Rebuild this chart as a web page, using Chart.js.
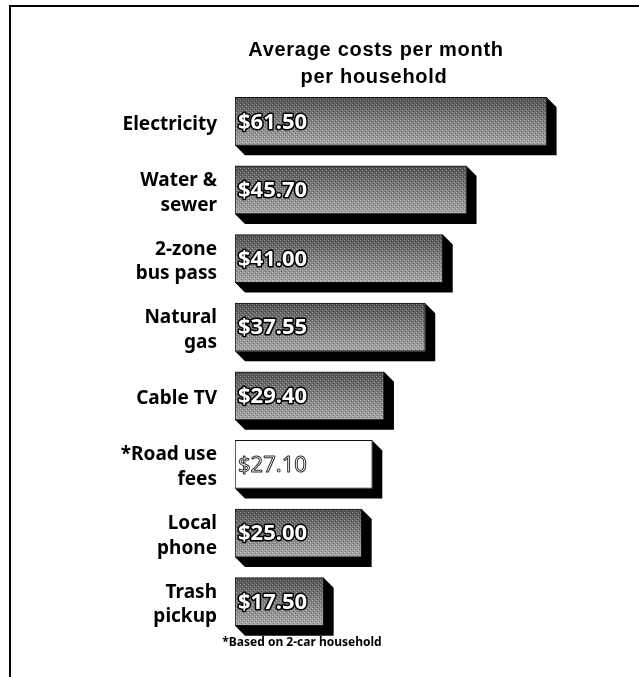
<!DOCTYPE html>
<html>
<head>
<meta charset="utf-8">
<script src="https://cdn.jsdelivr.net/npm/chart.js@4.4.0/dist/chart.umd.min.js"></script>
<style>
  html, body { margin: 0; padding: 0; background: #fff; }
  canvas { display: block; }
</style>
</head>
<body>
<canvas id="costChart" width="639" height="677"></canvas>
<script>
// ===== Data =====
const categories = [
  'Electricity',
  ['Water &', 'sewer'],
  ['2-zone', 'bus pass'],
  ['Natural', 'gas'],
  'Cable TV',
  ['*Road use', 'fees'],
  ['Local', 'phone'],
  ['Trash', 'pickup']
];
const costs = [61.50, 45.70, 41.00, 37.55, 29.40, 27.10, 25.00, 17.50];
const valueLabels = ['$61.50', '$45.70', '$41.00', '$37.55', '$29.40', '$27.10', '$25.00', '$17.50'];
const titleLines = ['Average costs per month', 'per household'];
const footnote = '*Based on 2-car household';
const hollowIndex = 5; // road use fees is drawn as a white bar

const DEPTH = 10; // 3D extrusion in px

// gradient for the front face of each bar, built from the category scale
function barFill(ctx) {
  const chart = ctx.chart;
  const yScale = chart.scales.y;
  if (ctx.dataIndex === hollowIndex) return '#ffffff';
  if (!yScale || yScale.top === undefined) return '#808080';
  const cy = yScale.getPixelForValue(ctx.dataIndex);
  const g = chart.ctx.createLinearGradient(0, cy - 24, 0, cy + 24);
  g.addColorStop(0, '#505050');
  g.addColorStop(0.5, '#808080');
  g.addColorStop(1, '#a8a8a8');
  return g;
}

// small stipple tile laid over the grey faces (scanned print look)
function makeStipple() {
  const tile = document.createElement('canvas');
  tile.width = 4;
  tile.height = 4;
  const t = tile.getContext('2d');
  t.fillStyle = 'rgba(255,255,255,0.35)';
  t.fillRect(0, 0, 1, 1);
  t.fillRect(2, 2, 1, 1);
  t.fillStyle = 'rgba(0,0,0,0.25)';
  t.fillRect(1, 3, 1, 1);
  t.fillRect(3, 1, 1, 1);
  return tile;
}
const stippleTile = makeStipple();

// ===== Frame, title and footnote =====
const decorPlugin = {
  id: 'decor',
  beforeDraw(chart) {
    const c = chart.ctx;
    c.save();
    c.fillStyle = '#fff';
    c.fillRect(0, 0, chart.width, chart.height);
    c.strokeStyle = '#000';
    c.lineWidth = 2;
    c.beginPath();
    c.moveTo(10, 677);
    c.lineTo(10, 6);
    c.lineTo(639, 6);
    c.stroke();

    c.fillStyle = '#000';
    c.textAlign = 'center';
    c.textBaseline = 'alphabetic';
    c.font = 'bold 20px "Liberation Sans", Arial, sans-serif';
    c.letterSpacing = '0.7px';
    c.fillText(titleLines[0], 376, 56);
    c.fillText(titleLines[1], 374, 83);
    c.letterSpacing = '0px';

    c.font = 'bold 12px "Noto Sans", sans-serif';
    c.fillText(footnote, 302, 646);
    c.restore();
  }
};

// ===== 3D shadow behind bars + value labels on top =====
const blockPlugin = {
  id: 'block',
  beforeDatasetsDraw(chart) {
    const c = chart.ctx;
    const meta = chart.getDatasetMeta(0);
    c.save();
    c.fillStyle = '#000';
    meta.data.forEach(bar => {
      const { x, y, base, height } = bar.getProps(['x', 'y', 'base', 'height'], true);
      const top = y - height / 2;
      const bottom = y + height / 2;
      c.beginPath();
      c.moveTo(base, bottom);
      c.lineTo(base + DEPTH, bottom + DEPTH);
      c.lineTo(x + DEPTH, bottom + DEPTH);
      c.lineTo(x + DEPTH, top + DEPTH);
      c.lineTo(x, top);
      c.lineTo(x, bottom);
      c.closePath();
      c.fill();
    });
    c.restore();
  },
  afterDatasetsDraw(chart) {
    const c = chart.ctx;
    const meta = chart.getDatasetMeta(0);
    const pattern = c.createPattern(stippleTile, 'repeat');
    c.save();
    // texture on the grey faces
    meta.data.forEach((bar, i) => {
      if (i === hollowIndex) return;
      const { x, y, base, height } = bar.getProps(['x', 'y', 'base', 'height'], true);
      c.fillStyle = pattern;
      c.fillRect(base + 1, y - height / 2 + 1, x - base - 2, height - 2);
    });

    c.textAlign = 'left';
    c.textBaseline = 'middle';
    c.lineJoin = 'round';
    meta.data.forEach((bar, i) => {
      const { y, base } = bar.getProps(['y', 'base'], true);
      const tx = base + 3;
      const ty = y + 1;
      if (i === hollowIndex) {
        c.font = '22px "Noto Sans", sans-serif';
        c.fillStyle = '#fff';
        c.strokeStyle = '#333';
        c.lineWidth = 1;
        c.fillText(valueLabels[i], tx, ty);
        c.strokeText(valueLabels[i], tx, ty);
      } else {
        c.font = 'bold 22px "Noto Sans", sans-serif';
        c.strokeStyle = '#000';
        c.lineWidth = 3;
        c.strokeText(valueLabels[i], tx, ty);
        c.fillStyle = '#fff';
        c.fillText(valueLabels[i], tx, ty);
      }
    });
    c.restore();
  }
};

// ===== Chart =====
const costChart = new Chart(document.getElementById('costChart'), {
  type: 'bar',
  data: {
    labels: categories,
    datasets: [{
      label: 'Average cost per month',
      data: costs,
      backgroundColor: barFill,
      borderColor: '#111',
      borderWidth: 1,
      borderSkipped: false,
      barThickness: 48
    }]
  },
  options: {
    indexAxis: 'y',
    responsive: false,
    devicePixelRatio: 1,
    animation: false,
    layout: { padding: { top: 87, bottom: 41, left: 0, right: 24 } },
    plugins: {
      legend: { display: false },
      tooltip: { enabled: false },
      title: { display: false }
    },
    scales: {
      x: { display: false, min: 0, max: 75 },
      y: {
        grid: { display: false, drawTicks: false },
        border: { display: false },
        afterFit: scale => { scale.width = 235; },
        ticks: {
          color: '#000',
          padding: 18,
          labelOffset: 3,
          font: { family: '"Noto Sans", sans-serif', weight: 'bold', size: 19, lineHeight: 1.3 }
        }
      }
    }
  },
  plugins: [decorPlugin, blockPlugin]
});
</script>
</body>
</html>
